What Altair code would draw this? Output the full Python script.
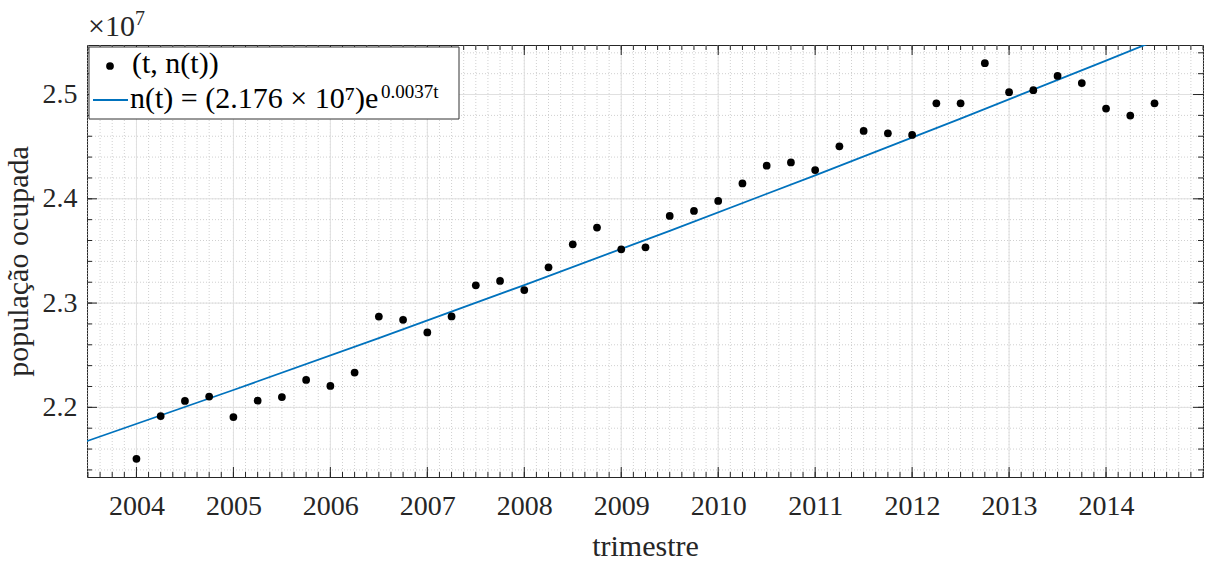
import altair as alt
import pandas as pd

# ---------------- data ----------------
trimestre = [2004.00, 2004.25, 2004.50, 2004.75, 2005.00, 2005.25, 2005.50, 2005.75,
             2006.00, 2006.25, 2006.50, 2006.75, 2007.00, 2007.25, 2007.50, 2007.75,
             2008.00, 2008.25, 2008.50, 2008.75, 2009.00, 2009.25, 2009.50, 2009.75,
             2010.00, 2010.25, 2010.50, 2010.75, 2011.00, 2011.25, 2011.50, 2011.75,
             2012.00, 2012.25, 2012.50, 2012.75, 2013.00, 2013.25, 2013.50, 2013.75,
             2014.00, 2014.25, 2014.50]
populacao = [21507000, 21916000, 22061000, 22103000, 21907000, 22064000, 22099000, 22263000,
             22205000, 22333000, 22871000, 22840000, 22718000, 22872000, 23170000, 23212000,
             23125000, 23343000, 23564000, 23724000, 23516000, 23535000, 23836000, 23884000,
             23980000, 24147000, 24317000, 24349000, 24276000, 24503000, 24651000, 24628000,
             24612000, 24916000, 24916000, 25300000, 25023000, 25042000, 25178000, 25110000,
             24865000, 24798000, 24916000]

# fitted curve n(t) = 2.176e7 * exp(0.0037 t), sampled at a few trimestres
fit_trimestre = [2003.0, 2003.5, 2005.0, 2006.5, 2008.0, 2009.5, 2011.0, 2012.5, 2014.0, 2015.0]
fit_populacao = [21519800, 21679600, 22166300, 22663900, 23172700, 23692900, 24224700, 24768500,
                 25324500, 25702100]

x_major = [2004, 2005, 2006, 2007, 2008, 2009, 2010, 2011, 2012, 2013, 2014]
y_major = [22000000, 23000000, 24000000, 25000000]
x_minor = [2003.5 + 0.125 * i for i in range(93)]
y_minor = [21400000 + 200000 * i for i in range(21)]

legend_point_label = "(t, n(t))"
legend_line_label = "n(t) = (2.176 × 10⁷)e"
legend_line_exponent = "0.0037t"

# ---------------- layout ----------------
W, H = 1116, 432
FONT = "'Times New Roman', 'Liberation Serif', Times, serif"
INK = "#262626"

xs = alt.Scale(domain=[2003.49, 2015.0], nice=False, zero=False)
ys = alt.Scale(domain=[21332000, 25475000], nice=False, zero=False)

X = alt.X("x:Q", scale=xs, axis=alt.Axis(
    values=x_major, format="d", grid=False, ticks=False, tickSize=0, domain=False,
    labelFont=FONT, labelFontSize=28, labelColor=INK, labelPadding=15,
    title="trimestre", titleFont=FONT, titleFontSize=30, titleFontWeight="normal",
    titleColor=INK, titleX=558, titleY=78, titleAlign="center", titleBaseline="alphabetic",
    titleAngle=0))
Y = alt.Y("y:Q", scale=ys, axis=alt.Axis(
    values=y_major, labelExpr="format(datum.value / 10000000, '.1f')",
    grid=False, ticks=False, tickSize=0, domain=False,
    labelFont=FONT, labelFontSize=28, labelColor=INK, labelPadding=10,
    title="população ocupada", titleFont=FONT, titleFontSize=30, titleFontWeight="normal",
    titleColor=INK, titleX=-60, titleY=H / 2, titleAlign="center",
    titleBaseline="alphabetic", titleAngle=270))

df_pts = pd.DataFrame({"x": trimestre, "y": populacao})
df_fit = pd.DataFrame({"x": fit_trimestre, "y": fit_populacao})
df_xmaj = pd.DataFrame({"x": x_major})
df_ymaj = pd.DataFrame({"y": y_major})
df_xmin = pd.DataFrame({"x": x_minor})
df_ymin = pd.DataFrame({"y": y_minor})
one = pd.DataFrame({"a": [0]})

minor_style = dict(color="#d0d0d0", strokeWidth=1, strokeDash=[1, 2])
major_style = dict(color="#e0e0e0", strokeWidth=1)

layers = [
    alt.Chart(df_xmin).mark_rule(**minor_style).encode(x=X),
    alt.Chart(df_ymin).mark_rule(**minor_style).encode(y=Y),
    alt.Chart(df_xmaj).mark_rule(**major_style).encode(x=X),
    alt.Chart(df_ymaj).mark_rule(**major_style).encode(y=Y),
    # inward ticks, x (bottom/top)
    alt.Chart(df_xmin).mark_rule(color=INK, strokeWidth=1).encode(x=X, y=alt.value(H), y2=alt.value(H - 5)),
    alt.Chart(df_xmin).mark_rule(color=INK, strokeWidth=1).encode(x=X, y=alt.value(0), y2=alt.value(5)),
    alt.Chart(df_xmaj).mark_rule(color=INK, strokeWidth=1).encode(x=X, y=alt.value(H), y2=alt.value(H - 10)),
    alt.Chart(df_xmaj).mark_rule(color=INK, strokeWidth=1).encode(x=X, y=alt.value(0), y2=alt.value(10)),
    # inward ticks, y (left/right)
    alt.Chart(df_ymin).mark_rule(color=INK, strokeWidth=1).encode(y=Y, x=alt.value(0), x2=alt.value(5)),
    alt.Chart(df_ymin).mark_rule(color=INK, strokeWidth=1).encode(y=Y, x=alt.value(W), x2=alt.value(W - 5)),
    alt.Chart(df_ymaj).mark_rule(color=INK, strokeWidth=1).encode(y=Y, x=alt.value(0), x2=alt.value(10)),
    alt.Chart(df_ymaj).mark_rule(color=INK, strokeWidth=1).encode(y=Y, x=alt.value(W), x2=alt.value(W - 10)),
    # data
    alt.Chart(df_fit).mark_line(color="#0072BD", strokeWidth=1.8, clip=True).encode(x=X, y=Y),
    alt.Chart(df_pts).mark_circle(size=60, color="black", opacity=1).encode(x=X, y=Y),
    # x10^7 multiplier
    alt.Chart(one).mark_text(text="×10", font=FONT, fontSize=30, color=INK, align="left",
                             baseline="alphabetic").encode(x=alt.value(1), y=alt.value(-9)),
    alt.Chart(one).mark_text(text="7", font=FONT, fontSize=20, color=INK, align="left",
                             baseline="alphabetic").encode(x=alt.value(48), y=alt.value(-20)),
    # legend
    alt.Chart(one).mark_rect(fill="white", stroke="#333333", strokeWidth=1).encode(
        x=alt.value(2), x2=alt.value(372), y=alt.value(2), y2=alt.value(74)),
    alt.Chart(one).mark_circle(size=60, color="black", opacity=1).encode(
        x=alt.value(23), y=alt.value(21)),
    alt.Chart(one).mark_text(text=legend_point_label, font=FONT, fontSize=30, color="black",
                             align="left", baseline="alphabetic").encode(
        x=alt.value(45), y=alt.value(28)),
    alt.Chart(one).mark_rule(color="#0072BD", strokeWidth=1.8).encode(
        x=alt.value(6), x2=alt.value(41), y=alt.value(55)),
    alt.Chart(one).mark_text(text=legend_line_label, font=FONT, fontSize=30, color="black",
                             align="left", baseline="alphabetic").encode(
        x=alt.value(43), y=alt.value(63)),
    alt.Chart(one).mark_text(text=legend_line_exponent, font=FONT, fontSize=19, color="black",
                             align="left", baseline="alphabetic").encode(
        x=alt.value(294), y=alt.value(53)),
]

chart = alt.layer(*layers).properties(
    width=W, height=H,
    autosize=alt.AutoSizeParams(type="none"),
    padding={"left": 87, "top": 45, "right": 5, "bottom": 84},
    background="white",
).configure_view(stroke=INK, strokeWidth=1)

chart.save("out.html", embed_options={"renderer": "svg", "actions": False})
